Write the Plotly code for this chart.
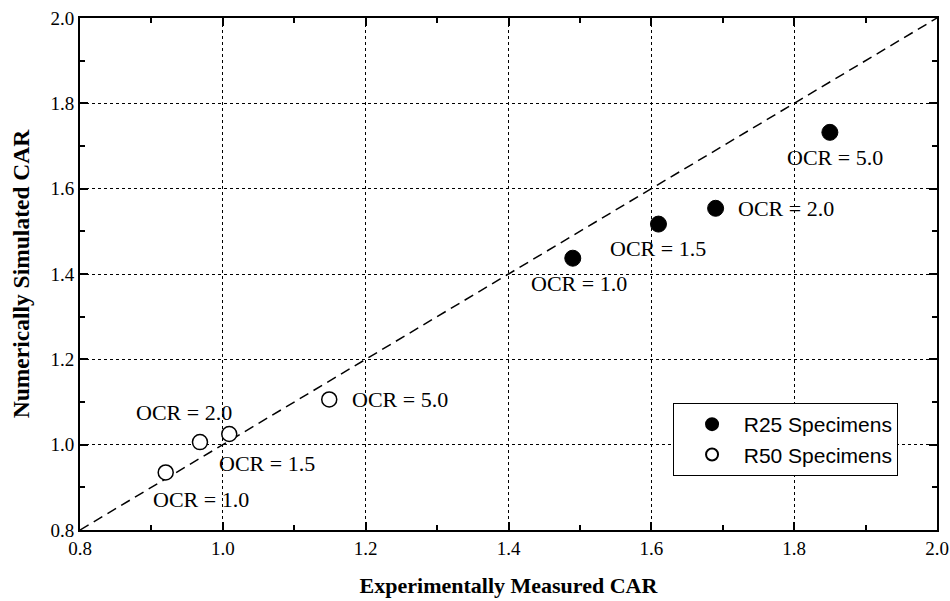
import plotly.graph_objects as go

# Data
r25_x = [1.49, 1.61, 1.69, 1.85]
r25_y = [1.437, 1.517, 1.554, 1.732]
r25_labels = ["OCR = 1.0", "OCR = 1.5", "OCR = 2.0", "OCR = 5.0"]

r50_x = [0.92, 0.968, 1.009, 1.149]
r50_y = [0.935, 1.006, 1.025, 1.106]
r50_labels = ["OCR = 1.0", "OCR = 2.0", "OCR = 1.5", "OCR = 5.0"]

line_range = [0.8, 2.0]
tick_vals = [0.8, 1.0, 1.2, 1.4, 1.6, 1.8, 2.0]
tick_text = ["0.8", "1.0", "1.2", "1.4", "1.6", "1.8", "2.0"]

# label offsets in px (xshift, yshift, xanchor)
r25_offsets = [(6, -25, "center"), (0, -24, "center"), (20, 0, "left"), (5, -25, "center")]
r50_offsets = [(35, -27, "center"), (-16, 30, "center"), (38, -29, "center"), (21, 0, "left")]

SERIF = "Liberation Serif, Times New Roman, serif"

fig = go.Figure()

fig.add_trace(go.Scatter(
    x=line_range, y=line_range, mode="lines",
    line=dict(color="black", width=1.5, dash="10px,6px"),
    showlegend=False, hoverinfo="skip"))

fig.add_trace(go.Scatter(
    x=r25_x, y=r25_y, mode="markers", name="\u00a0\u00a0R25 Specimens",
    marker=dict(symbol="circle", size=16, color="black",
                line=dict(color="black", width=1))))

fig.add_trace(go.Scatter(
    x=r50_x, y=r50_y, mode="markers", name="\u00a0\u00a0R50 Specimens",
    marker=dict(symbol="circle", size=15, color="white",
                line=dict(color="black", width=1.5))))

annotations = []
for xs, ys, labs, offs in [(r25_x, r25_y, r25_labels, r25_offsets),
                           (r50_x, r50_y, r50_labels, r50_offsets)]:
    for x, y, t, (dx, dy, xa) in zip(xs, ys, labs, offs):
        annotations.append(dict(
            x=x, y=y, xref="x", yref="y", text=t, showarrow=False,
            xshift=dx, yshift=dy, xanchor=xa, yanchor="middle",
            font=dict(family=SERIF, size=22, color="black")))

axis_common = dict(
    range=[0.8, 2.0], tickmode="array", tickvals=tick_vals, ticktext=tick_text,
    showgrid=True, gridcolor="black", gridwidth=1, griddash="dot",
    showline=True, linecolor="black", linewidth=2, mirror="ticks",
    ticks="inside", ticklen=8, tickwidth=1.5, tickcolor="black",
    minor=dict(dtick=0.1, ticks="inside", ticklen=5, tickwidth=1.5,
               tickcolor="black", showgrid=False),
    tickfont=dict(family=SERIF, size=19, color="black"),
    zeroline=False, automargin=False,
)

fig.update_layout(
    width=950, height=601,
    margin=dict(l=80, r=13, t=18, b=71),
    plot_bgcolor="white", paper_bgcolor="white",
    xaxis=dict(**axis_common,
               title=dict(text="<b>Experimentally Measured CAR</b>",
                          font=dict(family=SERIF, size=22, color="black"),
                          standoff=20)),
    yaxis=dict(**axis_common,
               title=dict(text="<b>Numerically Simulated CAR</b>",
                          font=dict(family=SERIF, size=23.5, color="black"),
                          standoff=14)),
    legend=dict(x=0.692, y=0.248, xanchor="left", yanchor="top",
                bgcolor="white", bordercolor="black", borderwidth=1,
                indentation=18,
                font=dict(family="Liberation Sans, Arial, sans-serif", size=21, color="black"),
                itemsizing="constant", tracegroupgap=0),
    annotations=annotations,
    showlegend=True,
)

fig.write_html("out.html")
